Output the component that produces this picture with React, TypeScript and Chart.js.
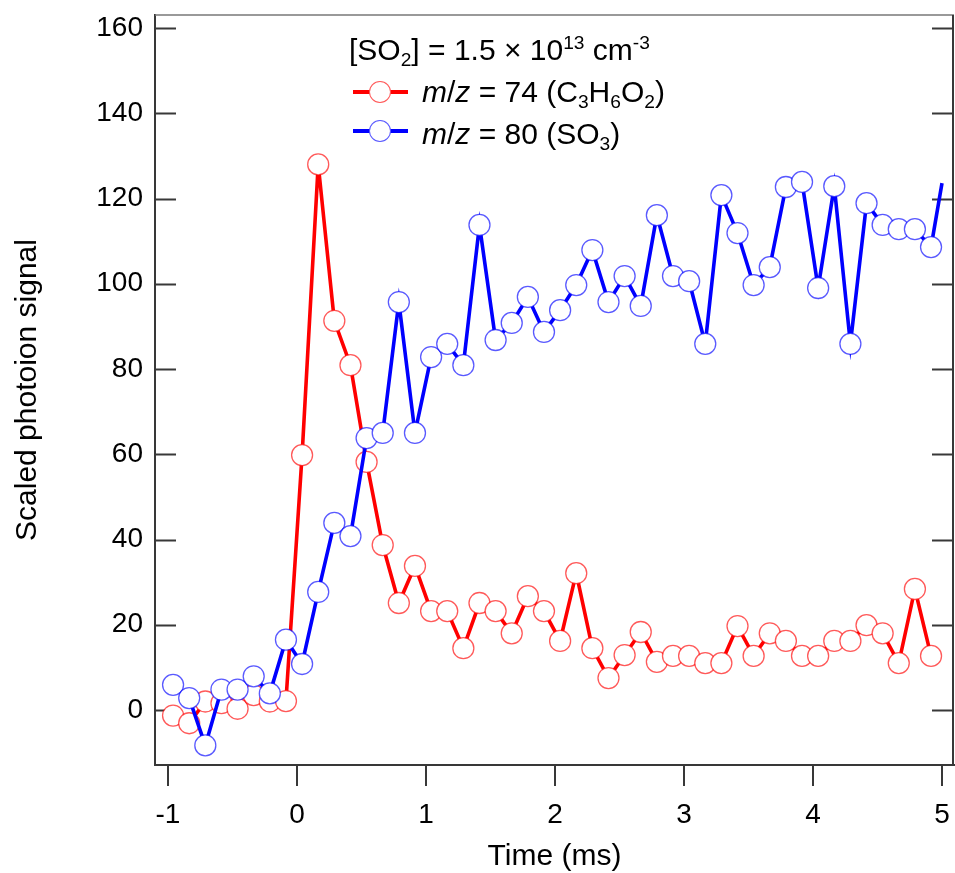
import React, { useEffect, useRef } from 'react';
import { Chart, registerables } from 'chart.js';

Chart.register(...registerables);

// ---- data ----
const timeMs = [
  -0.96, -0.835, -0.71, -0.585, -0.46, -0.335, -0.21, -0.085,
  0.04, 0.165, 0.29, 0.415, 0.54, 0.665, 0.79, 0.915,
  1.04, 1.165, 1.29, 1.415, 1.54, 1.665, 1.79, 1.915,
  2.04, 2.165, 2.29, 2.415, 2.54, 2.665, 2.79, 2.915,
  3.04, 3.165, 3.29, 3.415, 3.54, 3.665, 3.79, 3.915,
  4.04, 4.165, 4.29, 4.415, 4.54, 4.665, 4.79, 4.915,
];

const signalC3H6O2 = [
  -1.3, -3.1, 2.0, 1.6, 0.3, 3.5, 2.0, 2.1,
  59.8, 128.0, 91.3, 80.9, 58.2, 38.7, 25.1, 33.8,
  23.2, 23.2, 14.5, 25.1, 23.2, 18.0, 26.7, 23.2,
  16.2, 32.1, 14.5, 7.5, 12.9, 18.3, 11.3, 12.7,
  12.7, 11.0, 11.0, 19.7, 12.7, 18.0, 16.2, 12.7,
  12.7, 16.2, 16.2, 19.9, 18.0, 11.0, 28.4, 12.7,
];

const timeSO3 = [...timeMs, 5.0];
const signalSO3 = [
  5.9, 2.8, -8.3, 4.8, 4.8, 7.9, 3.9, 16.5,
  10.8, 27.7, 43.9, 40.8, 63.8, 65.0, 95.7, 65.0,
  82.8, 85.9, 80.9, 113.8, 86.8, 90.8, 96.9, 88.7,
  93.8, 99.7, 107.9, 95.7, 101.8, 94.8, 116.1, 101.8,
  100.6, 85.9, 120.8, 111.9, 99.7, 103.9, 122.7, 123.9,
  99.0, 122.9, 85.9, 118.9, 113.8, 112.8, 112.8, 108.6,
  123.6,
];

const xTicks = [-1, 0, 1, 2, 3, 4, 5];
const yTicks = [0, 20, 40, 60, 80, 100, 120, 140, 160];
const xRange = [-1.1, 5.093];
const yRange = [-12.9, 163.05];

const xTitle = 'Time (ms)';
const yTitle = 'Scaled photoion signal';

const FONT = '"Liberation Sans", Arial, sans-serif';
const AXIS = '#383838';

const frameTicks = {
  id: 'frameTicks',
  beforeDatasetsDraw(chart: any) {
    const { ctx, chartArea, scales } = chart;
    const { left, right, top, bottom } = chartArea;
    const y = scales.y;
    ctx.save();
    ctx.strokeStyle = '#777777';
    ctx.lineWidth = 1.5;
    ctx.beginPath();
    ctx.moveTo(left, top);
    ctx.lineTo(right, top);
    ctx.stroke();
    ctx.strokeStyle = AXIS;
    ctx.lineWidth = 2;
    ctx.beginPath();
    ctx.moveTo(right - 1, top);
    ctx.lineTo(right - 1, bottom);
    ctx.stroke();
    const len = 21;
    y.ticks.forEach((t: any) => {
      const py = Math.round(y.getPixelForValue(t.value)) + 0.5;
      ctx.beginPath();
      ctx.moveTo(left, py);
      ctx.lineTo(left + len, py);
      ctx.moveTo(right - 1, py);
      ctx.lineTo(right - 1 - len, py);
      ctx.stroke();
    });
    ctx.restore();
  },
};

function Sub({ children }: { children: React.ReactNode }) {
  return (
    <span style={{ fontSize: '0.64em', position: 'relative', top: '0.32em', lineHeight: 1 }}>{children}</span>
  );
}
function Sup({ children }: { children: React.ReactNode }) {
  return (
    <span style={{ fontSize: '0.64em', position: 'relative', top: '-0.55em', lineHeight: 1 }}>{children}</span>
  );
}

function LegendSymbol({ color, marker, y }: { color: string; marker: string; y: number }) {
  return (
    <>
      <div style={{ position: 'absolute', left: 4, top: y - 1.75, width: 55, height: 3.5, background: color }} />
      <div
        style={{
          position: 'absolute',
          left: 20,
          top: y - 11,
          width: 20,
          height: 20,
          borderRadius: '50%',
          border: `1.3px solid ${marker}`,
          background: '#fff',
        }}
      />
    </>
  );
}

export default function App() {
  const ref = useRef<HTMLCanvasElement | null>(null);

  useEffect(() => {
    if (!ref.current) return;
    const chart = new Chart(ref.current, {
      type: 'line',
      data: {
        datasets: [
          {
            label: 'm/z = 74 (C3H6O2)',
            data: timeMs.map((t, i) => ({ x: t, y: signalC3H6O2[i] })),
            borderColor: '#ff0000',
            borderWidth: 3.6,
            pointRadius: 10.5,
            pointBorderWidth: 1.3,
            pointBorderColor: 'rgba(255,0,0,0.65)',
            pointBackgroundColor: '#ffffff',
            tension: 0,
            order: 1,
          },
          {
            label: 'm/z = 80 (SO3)',
            data: timeSO3.map((t, i) => ({ x: t, y: signalSO3[i] })),
            borderColor: '#0000ff',
            borderWidth: 3.6,
            pointRadius: (c: any) => (c.dataIndex === timeSO3.length - 1 ? 0 : 10.5),
            pointBorderWidth: 1.3,
            pointBorderColor: 'rgba(0,0,255,0.65)',
            pointBackgroundColor: '#ffffff',
            tension: 0,
            order: 0,
          },
        ],
      },
      options: {
        animation: false,
        responsive: false,
        devicePixelRatio: 1,
        layout: { autoPadding: false, padding: { left: 0, top: 15, right: 1, bottom: 0 } },
        plugins: { legend: { display: false }, tooltip: { enabled: false } },
        events: [],
        scales: {
          x: {
            type: 'linear',
            min: xRange[0],
            max: xRange[1],
            afterBuildTicks: (s: any) => {
              s.ticks = xTicks.map((v) => ({ value: v }));
            },
            afterFit: (s: any) => {
              s.height = 108;
              s.paddingLeft = 0;
              s.paddingRight = 0;
            },
            grid: {
              display: true,
              drawOnChartArea: false,
              drawTicks: true,
              tickLength: 21,
              tickColor: AXIS,
              lineWidth: 2,
            },
            border: { display: true, color: AXIS, width: 2 },
            ticks: {
              color: '#000',
              font: { family: FONT, size: 28 },
              padding: 12,
              maxRotation: 0,
              autoSkip: false,
              callback: (v: any) => String(v),
            },
            title: {
              display: true,
              text: xTitle,
              color: '#000',
              font: { family: FONT, size: 30, lineHeight: 1 },
              padding: { top: 0, bottom: 1 },
            },
          },
          y: {
            type: 'linear',
            min: yRange[0],
            max: yRange[1],
            afterBuildTicks: (s: any) => {
              s.ticks = yTicks.map((v) => ({ value: v }));
            },
            afterFit: (s: any) => {
              s.width = 155;
              s.paddingTop = 0;
              s.paddingBottom = 0;
            },
            grid: { display: true, drawOnChartArea: false, drawTicks: false },
            border: { display: true, color: AXIS, width: 2 },
            ticks: {
              color: '#000',
              font: { family: FONT, size: 28 },
              padding: 12,
              autoSkip: false,
              callback: (v: any) => String(v),
            },
            title: {
              display: true,
              text: yTitle,
              color: '#000',
              font: { family: FONT, size: 30, lineHeight: 1 },
              padding: { top: 13, bottom: 0 },
            },
          },
        },
      },
      plugins: [frameTicks],
    } as any);
    return () => chart.destroy();
  }, []);

  return (
    <div style={{ position: 'absolute', left: 0, top: 0, width: 955, height: 873, background: '#fff' }}>
      <canvas ref={ref} width={955} height={873} style={{ display: 'block', width: 955, height: 873 }} />
      <div
        style={{
          position: 'absolute',
          left: 349,
          top: 29,
          font: `30px ${FONT}`,
          lineHeight: '42px',
          color: '#000',
          whiteSpace: 'nowrap',
        }}
      >
        <div style={{ height: 42 }}>
          [SO<Sub>2</Sub>] = 1.5 × 10<Sup>13</Sup> cm<Sup>-3</Sup>
        </div>
        <div style={{ height: 42, paddingLeft: 73 }}>
          <i>m</i>/<i>z</i> = 74 (C<Sub>3</Sub>H<Sub>6</Sub>O<Sub>2</Sub>)
        </div>
        <div style={{ height: 42, paddingLeft: 73 }}>
          <i>m</i>/<i>z</i> = 80 (SO<Sub>3</Sub>)
        </div>
        <LegendSymbol color="#ff0000" marker="rgba(255,0,0,0.65)" y={63} />
        <LegendSymbol color="#0000ff" marker="rgba(0,0,255,0.65)" y={102} />
      </div>
    </div>
  );
}
